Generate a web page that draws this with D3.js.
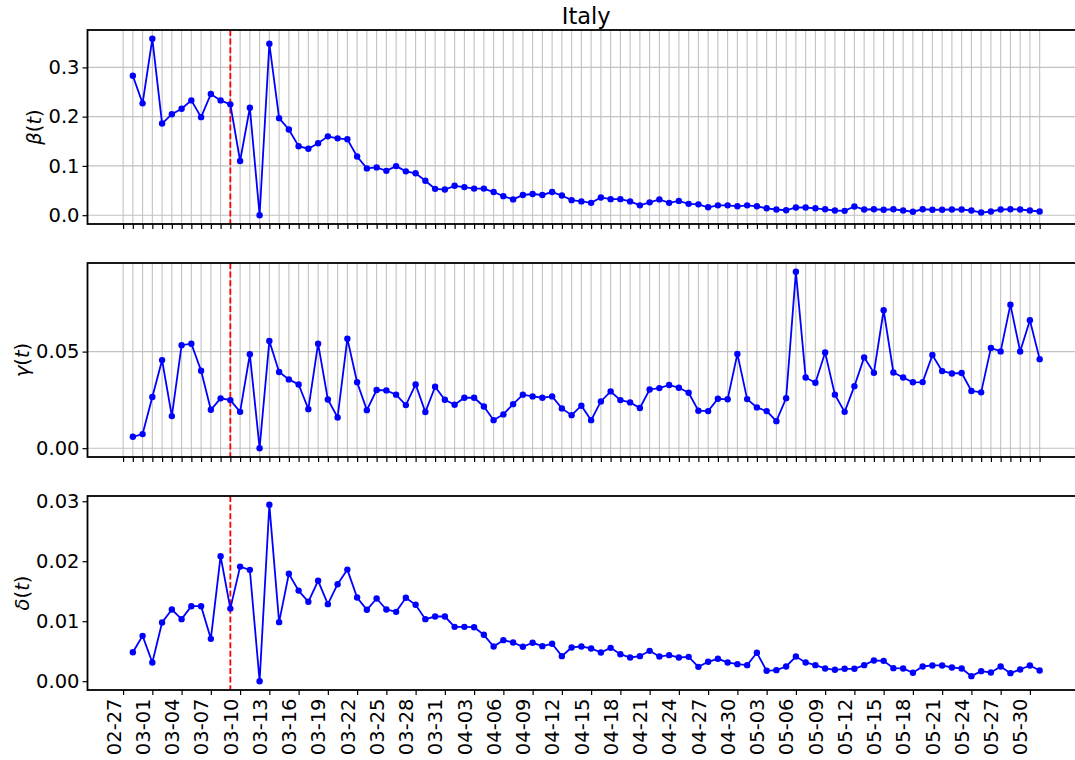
<!DOCTYPE html>
<html>
<head>
<meta charset="utf-8">
<script src="https://cdn.jsdelivr.net/npm/d3@7"></script>
<style>
   body { margin: 0; background: #fff; }
   svg { display: block; font-family: 'DejaVu Sans', sans-serif; }
</style>
</head>
<body>
<script>
   // chart data
   let countryName = 'Italy';
   let firstDay = '2020-02-28';
   let lastDay = '2020-05-31';
   let firstTickDay = '2020-02-27';
   let lockdownDay = '2020-03-09';

   let betaValues = [0.283, 0.227, 0.358, 0.186, 0.205, 0.216, 0.233, 0.199, 0.246, 0.233,
      0.225, 0.110, 0.218, 0.000, 0.348, 0.197, 0.174, 0.140, 0.135, 0.146,
      0.160, 0.156, 0.154, 0.119, 0.095, 0.097, 0.090, 0.0996, 0.089, 0.085,
      0.070, 0.0535, 0.052, 0.0596, 0.057, 0.054, 0.054, 0.047, 0.0386, 0.032,
      0.041, 0.043, 0.041, 0.047, 0.040, 0.0305, 0.028, 0.025, 0.036, 0.0325,
      0.0325, 0.028, 0.020, 0.026, 0.032, 0.025, 0.029, 0.023, 0.022, 0.016,
      0.020, 0.020, 0.018, 0.020, 0.018, 0.014, 0.0115, 0.010, 0.0156, 0.0156,
      0.014, 0.012, 0.0095, 0.0088, 0.0176, 0.0115, 0.012, 0.011, 0.012, 0.0095,
      0.007, 0.012, 0.011, 0.011, 0.0115, 0.0115, 0.0095, 0.0054, 0.0075, 0.0115,
      0.012, 0.0115, 0.0095, 0.0075];

   let gammaValues = [0.0059, 0.0073, 0.0265, 0.0456, 0.0166, 0.0533, 0.0541, 0.0401, 0.0199, 0.0258,
      0.0249, 0.0188, 0.0486, 0.0000, 0.0555, 0.0394, 0.0356, 0.0330, 0.0202, 0.0541,
      0.0252, 0.0159, 0.0567, 0.0341, 0.0197, 0.0301, 0.0299, 0.0277, 0.0223, 0.0330,
      0.0187, 0.0318, 0.0251, 0.0225, 0.0261, 0.0261, 0.0216, 0.0145, 0.0175, 0.0228,
      0.0277, 0.0268, 0.0261, 0.0268, 0.0206, 0.0171, 0.0220, 0.0145, 0.0242, 0.0294,
      0.0249, 0.0237, 0.0208, 0.0304, 0.0311, 0.0327, 0.0313, 0.0287, 0.0194, 0.0192,
      0.0256, 0.0253, 0.0488, 0.0254, 0.0211, 0.0192, 0.0140, 0.0259, 0.0913, 0.0366,
      0.0339, 0.0495, 0.0277, 0.0188, 0.0321, 0.0470, 0.0390, 0.0714, 0.0392, 0.0366,
      0.0341, 0.0342, 0.0482, 0.0399, 0.0387, 0.0389, 0.0296, 0.0289, 0.0519, 0.0501,
      0.0743, 0.0501, 0.0662, 0.0461];

   let deltaValues = [0.00483, 0.00756, 0.00312, 0.00978, 0.01195, 0.01034, 0.0125, 0.0125, 0.00706, 0.02084,
      0.0121, 0.0191, 0.01856, 0.0000, 0.0294, 0.00984, 0.0179, 0.0151, 0.01323, 0.01673,
      0.01284, 0.01617, 0.0186, 0.01395, 0.0119, 0.01378, 0.01195, 0.01156, 0.0139, 0.01273,
      0.01034, 0.01078, 0.01078, 0.00906, 0.00906, 0.0090, 0.00773, 0.00578, 0.00684, 0.00645,
      0.00573, 0.0064, 0.00584, 0.00623, 0.00417, 0.00562, 0.00578, 0.00545, 0.00478, 0.00556,
      0.0045, 0.00395, 0.00417, 0.00506, 0.00411, 0.00434, 0.00395, 0.00406, 0.00239, 0.00323,
      0.00373, 0.00312, 0.00284, 0.00267, 0.00473, 0.00173, 0.00184, 0.00245, 0.00411, 0.00312,
      0.00267, 0.00212, 0.0019, 0.00206, 0.00206, 0.00267, 0.00345, 0.00339, 0.00217, 0.00212,
      0.0014, 0.00245, 0.00262, 0.00262, 0.00228, 0.00212, 0.00084, 0.00167, 0.00145, 0.00245,
      0.00134, 0.00195, 0.00262, 0.00178];

   let betaTicks = [0, 0.1, 0.2, 0.3];
   let gammaTicks = [0, 0.05];
   let deltaTicks = [0, 0.01, 0.02, 0.03];

   // canvas
   let width = 1075;
   let height = 760;
   let plotLeft = 87.5;
   let plotRight = 1085;      // right edge falls outside the picture
   let panelHeight = 194;
   let fontSize = 19.5;
   let svg = d3.select('body').append('svg')
      .attr('width', width)
      .attr('height', height);

   let parseDay = d3.utcParse('%Y-%m-%d');
   let days = d3.utcDay.range(parseDay(firstDay), d3.utcDay.offset(parseDay(lastDay), 1));
   let gridDays = d3.utcDay.range(parseDay(firstTickDay), d3.utcDay.offset(parseDay(lastDay), 1));
   let labelDays = d3.utcDay.range(parseDay(firstTickDay), d3.utcDay.offset(parseDay(lastDay), 1), 3);

   let panels = [
      { name: 'β', values: betaValues, ticks: betaTicks, fmt: d3.format('.1f'), top: 30, grid: true, labels: false },
      { name: 'γ', values: gammaValues, ticks: gammaTicks, fmt: d3.format('.2f'), top: 263, grid: true, labels: false },
      { name: 'δ', values: deltaValues, ticks: deltaTicks, fmt: d3.format('.2f'), top: 496, grid: false, labels: true }
   ];

   // x scale with 5% margins on both sides
   let t0 = days[0].getTime();
   let t1 = days[days.length - 1].getTime();
   let pad = (t1 - t0) * 0.05;
   let xScale = d3.scaleUtc()
      .domain([new Date(t0 - pad), new Date(t1 + pad)])
      .range([plotLeft, plotRight]);

   let drawPanel = (p) => {
      let ext = d3.extent(p.values);
      let ypad = (ext[1] - ext[0]) * 0.05;
      let yScale = d3.scaleLinear()
         .domain([ext[0] - ypad, ext[1] + ypad])
         .range([p.top + panelHeight, p.top]);
      let g = svg.append('g');

      // grid
      if (p.grid) {
         g.selectAll('.vgrid')
            .data(gridDays)
            .enter()
            .append('line')
            .attr('x1', (d) => xScale(d))
            .attr('x2', (d) => xScale(d))
            .attr('y1', p.top)
            .attr('y2', p.top + panelHeight)
            .attr('stroke', '#c2c2c2')
            .attr('stroke-width', 1.1);
         g.selectAll('.hgrid')
            .data(p.ticks)
            .enter()
            .append('line')
            .attr('x1', plotLeft)
            .attr('x2', plotRight)
            .attr('y1', (d) => yScale(d))
            .attr('y2', (d) => yScale(d))
            .attr('stroke', '#c2c2c2')
            .attr('stroke-width', 1.1);
      }

      // lockdown line
      g.append('line')
         .attr('x1', xScale(parseDay(lockdownDay)))
         .attr('x2', xScale(parseDay(lockdownDay)))
         .attr('y1', p.top)
         .attr('y2', p.top + panelHeight)
         .attr('stroke', 'red')
         .attr('stroke-width', 1.8)
         .attr('stroke-dasharray', '6,2.6');

      // series
      let line = d3.line()
         .x((d, i) => xScale(days[i]))
         .y((d) => yScale(d));
      g.append('path')
         .datum(p.values)
         .attr('d', line)
         .attr('fill', 'none')
         .attr('stroke', 'blue')
         .attr('stroke-width', 1.8);
      g.selectAll('circle')
         .data(p.values)
         .enter()
         .append('circle')
         .attr('cx', (d, i) => xScale(days[i]))
         .attr('cy', (d) => yScale(d))
         .attr('r', 3.2)
         .attr('fill', 'blue');

      // axes
      let xAxis = p.labels
         ? d3.axisBottom(xScale).tickValues(labelDays).tickFormat(d3.utcFormat('%m-%d'))
         : d3.axisBottom(xScale).tickValues(gridDays).tickFormat('');
      let gx = g.append('g')
         .attr('transform', 'translate(0, ' + (p.top + panelHeight) + ')')
         .call(xAxis.tickSize(5).tickPadding(3))
         .attr('font-size', fontSize)
         .attr('font-family', null);
      gx.select('.domain').remove();
      gx.selectAll('.tick line').attr('stroke-width', 1.2);
      if (p.labels) {
         gx.selectAll('.tick text')
            .attr('text-anchor', 'end')
            .attr('transform', 'rotate(-90)')
            .attr('x', -8.5)
            .attr('y', -3)
            .attr('dy', null);
      }

      let gy = g.append('g')
         .attr('transform', 'translate(' + plotLeft + ', 0)')
         .call(d3.axisLeft(yScale).tickValues(p.ticks).tickFormat(p.fmt).tickSize(5).tickPadding(3))
         .attr('font-size', fontSize)
         .attr('font-family', null);
      gy.select('.domain').remove();
      gy.selectAll('.tick line').attr('stroke-width', 1.2);

      // frame
      g.append('rect')
         .attr('x', plotLeft)
         .attr('y', p.top)
         .attr('width', plotRight - plotLeft)
         .attr('height', panelHeight)
         .attr('fill', 'none')
         .attr('stroke', 'black')
         .attr('stroke-width', 1.8);

      // y label, placed left of the widest tick label
      let minX = d3.min(gy.selectAll('.tick text').nodes(), (n) => {
         let b = n.getBBox();
         return plotLeft - 5 - 3 - b.width;
      });
      let lab = g.append('text')
         .attr('transform', 'translate(' + (minX - 7) + ', ' + (p.top + panelHeight / 2) + ') rotate(-90)')
         .attr('text-anchor', 'middle')
         .attr('font-size', fontSize);
      lab.append('tspan').attr('font-style', 'italic').text(p.name);
      lab.append('tspan').text('(');
      lab.append('tspan').attr('font-style', 'italic').text('t');
      lab.append('tspan').text(')');
   }

   panels.forEach(drawPanel);

   svg.append('text')
      .attr('x', (plotLeft + plotRight) / 2)
      .attr('y', 24)
      .attr('text-anchor', 'middle')
      .attr('font-size', 22.5)
      .text(countryName);
</script>
</body>
</html>
